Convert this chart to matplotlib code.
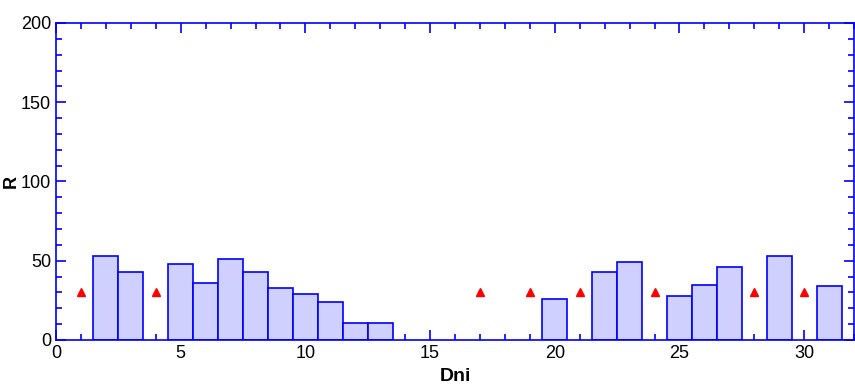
import matplotlib
matplotlib.use("Agg")
import matplotlib.pyplot as plt
from matplotlib.ticker import MultipleLocator

# bar data
dni = [2, 3, 5, 6, 7, 8, 9, 10, 11, 12, 13, 20, 22, 23, 25, 26, 27, 29, 31]
r = [53, 43, 48, 36, 51, 43, 33, 29, 24, 11, 11, 26, 43, 49, 28, 35, 46, 53, 34]
# red markers
mark_x = [1, 4, 17, 19, 21, 24, 28, 30]
mark_y = [30, 30, 30, 30, 30, 30, 30, 30]

plt.rcParams['font.family'] = ['Liberation Sans', 'DejaVu Sans']

fig = plt.figure(figsize=(8.55, 3.85), dpi=100)
ax = fig.add_axes([56/855, 1 - 340/385, 798/855, 317/385])

ax.bar(dni, r, width=1.0, color='#d0d0ff', edgecolor='blue', linewidth=1.2, zorder=2)
ax.plot(mark_x, mark_y, linestyle='none', marker='^', color='red', markersize=6, zorder=3)

ax.set_xlim(0, 32)
ax.set_ylim(0, 200)
ax.xaxis.set_major_locator(MultipleLocator(5))
ax.xaxis.set_minor_locator(MultipleLocator(1))
ax.yaxis.set_major_locator(MultipleLocator(50))
ax.yaxis.set_minor_locator(MultipleLocator(10))

for s in ax.spines.values():
    s.set_color('blue')
    s.set_linewidth(1.2)
ax.tick_params(which='both', direction='in', color='blue', top=True, right=True, labelsize=13)
ax.tick_params(which='major', length=7, width=1.2)
ax.tick_params(which='minor', length=4, width=1.2)

ax.set_xlabel('Dni', fontsize=14, fontweight='bold')
ax.set_ylabel('R', fontsize=13, fontweight='bold')
ax.xaxis.set_label_coords(0.5, -28/317)
ax.yaxis.set_label_coords(-36/798, 0.5)

fig.savefig('out.png', dpi=100)
